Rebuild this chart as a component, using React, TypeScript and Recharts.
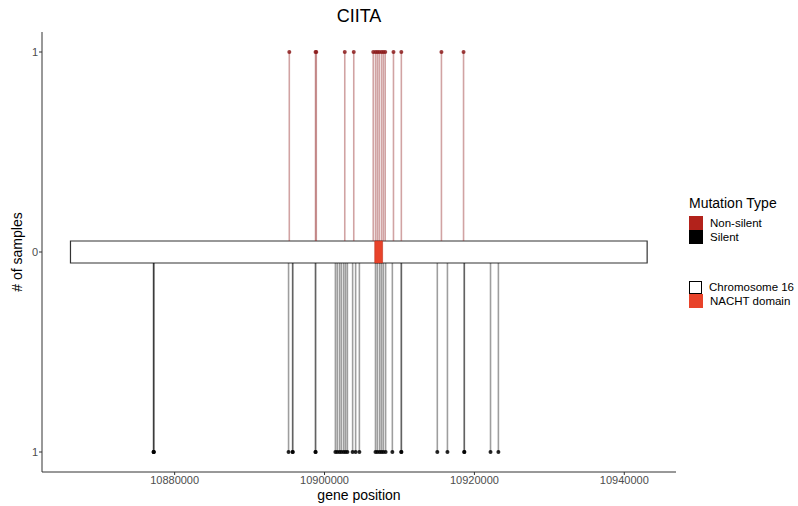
import { ComposedChart, XAxis, YAxis, Scatter, ReferenceLine, ReferenceArea } from 'recharts';

// mutation positions (bp), repeated entries = stacked mutations at the same spot
const nonSilentPos = [
  10895300, 10898800, 10898900, 10902700, 10903900, 10906500, 10906800, 10907050,
  10907300, 10907600, 10907850, 10908100, 10909200, 10910250, 10915600, 10918550,
];
const silentPos = [
  10877200, 10877200, 10877200, 10895200, 10895750, 10895750, 10898800, 10898800,
  10901450, 10901700, 10902000, 10902250, 10902550, 10902800, 10903050, 10903750,
  10904150, 10904650, 10906800, 10907050, 10907350, 10907600, 10907850, 10908150,
  10909050, 10910250, 10910250, 10915050, 10916400, 10918650, 10918650, 10922150,
  10923200,
];
const chromosome = { start: 10866100, end: 10943050 };
const nachtDomain = { start: 10906700, end: 10907750 };
const xTicks = [10880000, 10900000, 10920000, 10940000];
const yTicks = [-1, 0, 1];
const boxHalf = 0.055;

const nonSilentHeads = nonSilentPos.map((pos) => ({ pos, n: 1 }));
const silentHeads = silentPos.map((pos) => ({ pos, n: -1 }));

const FONT = '"Liberation Sans", Arial, Helvetica, sans-serif';

const YLabel = (props: any) => {
  const vb = props.viewBox;
  const x = vb.x + 17;
  const y = vb.y + vb.height / 2;
  return (
    <text x={x} y={y} transform={`rotate(-90, ${x}, ${y})`} textAnchor="middle" dominantBaseline="central" fontSize={14} fill="#000" fontFamily={FONT}>
      # of samples
    </text>
  );
};

const Swatch = ({ color, border }: { color: string; border?: boolean }) => (
  <span
    style={{
      display: 'inline-block',
      width: border ? 11 : 14,
      height: border ? 11 : 14,
      background: color,
      border: border ? '1.5px solid #000' : 'none',
      marginRight: 7,
    }}
  />
);

const App = () => {
  return (
    <div style={{ position: 'absolute', left: 0, top: 0, width: 798, height: 506, background: '#fff', fontFamily: FONT }}>
      <div style={{ position: 'absolute', left: 0, width: 718, top: 6, textAlign: 'center', fontSize: 18, color: '#000' }}>CIITA</div>
      <ComposedChart width={798} height={506} margin={{ top: 32, right: 122, bottom: 0, left: 0 }}>
        <XAxis
          dataKey="pos"
          type="number"
          domain={[10862300, 10946900]}
          ticks={xTicks}
          allowDataOverflow
          height={34}
          tickSize={3}
          tickMargin={1}
          tickFormatter={(v: number) => String(v)}
          tick={{ fill: '#4d4d4d', fontSize: 11, fontFamily: FONT }}
          axisLine={{ stroke: '#333', strokeWidth: 1 }}
          tickLine={{ stroke: '#333' }}
          label={{ value: 'gene position', position: 'insideBottom', offset: 6, fontSize: 14, fill: '#000', fontFamily: FONT }}
        />
        <YAxis
          dataKey="n"
          type="number"
          domain={[-1.1, 1.1]}
          ticks={yTicks}
          width={42}
          tickSize={3}
          tickMargin={1}
          tickFormatter={(v: number) => String(Math.abs(v))}
          tick={{ fill: '#4d4d4d', fontSize: 11, fontFamily: FONT }}
          axisLine={{ stroke: '#333', strokeWidth: 1 }}
          tickLine={{ stroke: '#333' }}
          label={<YLabel />}
        />
        {nonSilentPos.map((p, i) => (
          <ReferenceLine
            key={`ns${i}`}
            segment={[{ x: p, y: boxHalf }, { x: p, y: 1 }]}
            stroke="#8b1a1a"
            strokeOpacity={0.4}
            strokeWidth={1.6}
          />
        ))}
        {silentPos.map((p, i) => (
          <ReferenceLine
            key={`s${i}`}
            segment={[{ x: p, y: -boxHalf }, { x: p, y: -1 }]}
            stroke="#000"
            strokeOpacity={0.38}
            strokeWidth={1.6}
          />
        ))}
        <ReferenceArea
          x1={chromosome.start}
          x2={chromosome.end}
          y1={-boxHalf}
          y2={boxHalf}
          fill="#fff"
          fillOpacity={1}
          stroke="#333"
          strokeWidth={1.2}
        />
        <ReferenceArea
          x1={nachtDomain.start}
          x2={nachtDomain.end}
          y1={-boxHalf}
          y2={boxHalf}
          fill="#e8432a"
          fillOpacity={1}
          stroke="#c0301c"
          strokeWidth={0.6}
        />
        <Scatter data={nonSilentHeads} fill="#8b1a1a" isAnimationActive={false} shape={(p: any) => <circle cx={p.cx} cy={p.cy} r={2} fill="#8b1a1a" fillOpacity={0.85} />} />
        <Scatter data={silentHeads} fill="#000" isAnimationActive={false} shape={(p: any) => <circle cx={p.cx} cy={p.cy} r={2} fill="#000" fillOpacity={0.85} />} />
      </ComposedChart>
      <div style={{ position: 'absolute', left: 689, top: 195, fontSize: 14, color: '#000' }}>Mutation Type</div>
      <div style={{ position: 'absolute', left: 689, top: 216, fontSize: 11.5, color: '#000', lineHeight: '14px' }}>
        <div style={{ display: 'flex', alignItems: 'center' }}><Swatch color="#b2221b" />Non-silent</div>
        <div style={{ display: 'flex', alignItems: 'center' }}><Swatch color="#000" />Silent</div>
      </div>
      <div style={{ position: 'absolute', left: 689, top: 280, fontSize: 11.5, color: '#000', lineHeight: '14px' }}>
        <div style={{ display: 'flex', alignItems: 'center' }}><Swatch color="#fff" border />Chromosome 16</div>
        <div style={{ display: 'flex', alignItems: 'center' }}><Swatch color="#e8432a" />NACHT domain</div>
      </div>
    </div>
  );
};

export default App;
